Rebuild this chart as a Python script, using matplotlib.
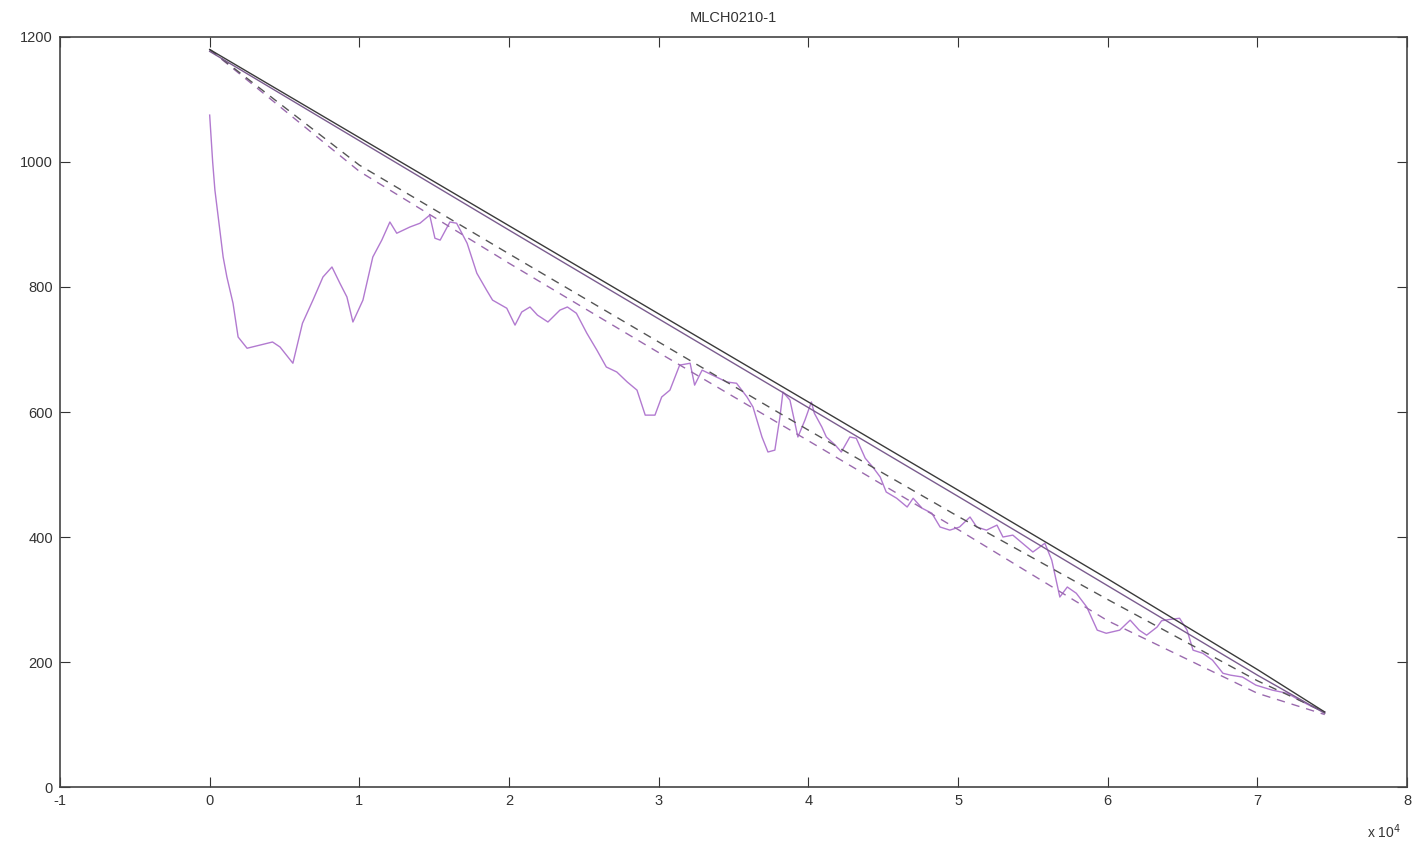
import matplotlib
matplotlib.use("Agg")
import matplotlib.pyplot as plt
import numpy as np

plt.rcParams['font.family'] = ['Liberation Sans', 'DejaVu Sans']
plt.rcParams['axes.unicode_minus'] = False

# x values in units of 1e4
line_x = [0, 1, 2, 3, 4, 5, 6, 7, 7.45]
solid_black = [1180, 1039, 898, 757, 616, 475, 333, 188, 120]
solid_purple = [1177, 1034, 891, 749, 607, 465, 322, 179, 118]
dashed_black = [1180, 995, 853, 712, 571, 433, 300, 170, 120]
dashed_purple = [1180, 985, 838, 695, 554, 412, 266, 150, 116]

# measured (noisy) curve
meas_x = [0.0, 0.02, 0.035, 0.09, 0.115, 0.156, 0.19, 0.25, 0.336, 0.42, 0.47,
          0.556, 0.62, 0.69, 0.757, 0.817, 0.87, 0.917, 0.957, 1.024, 1.09,
          1.15, 1.204, 1.25, 1.338, 1.405, 1.47, 1.505, 1.54, 1.605, 1.65,
          1.72, 1.785, 1.85, 1.89, 1.985, 2.04, 2.085, 2.14, 2.19, 2.26, 2.34,
          2.39, 2.45, 2.52, 2.587, 2.65, 2.72, 2.79, 2.855, 2.91, 2.975, 3.02,
          3.075, 3.14, 3.21, 3.24, 3.29, 3.36, 3.455, 3.52, 3.59, 3.63, 3.69,
          3.73, 3.776, 3.81, 3.83, 3.877, 3.93, 3.977, 4.02, 4.04, 4.09, 4.12,
          4.18, 4.22, 4.277, 4.32, 4.38, 4.43, 4.48, 4.52, 4.59, 4.66, 4.70,
          4.76, 4.825, 4.88, 4.945, 5.01, 5.08, 5.125, 5.19, 5.26, 5.30, 5.366,
          5.43, 5.5, 5.58, 5.626, 5.68, 5.73, 5.79, 5.86, 5.93, 5.99, 6.08,
          6.15, 6.21, 6.26, 6.33, 6.36, 6.41, 6.48, 6.53, 6.57, 6.635, 6.70,
          6.77, 6.82, 6.90, 6.99, 7.1, 7.2, 7.28, 7.37, 7.42, 7.45]
meas_y = [1075, 1000, 955, 848, 816, 774, 720, 702, 707, 712, 704,
          678, 742, 779, 816, 832, 806, 784, 744, 779, 848,
          875, 904, 886, 896, 902, 915, 878, 875, 904, 902,
          870, 822, 795, 779, 766, 739, 760, 768, 755, 744, 763,
          768, 758, 726, 699, 672, 664, 648, 635, 595, 595, 624,
          635, 675, 678, 643, 667, 659, 648, 646, 624, 608, 560,
          536, 539, 592, 632, 619, 560, 587, 616, 598, 576, 560,
          547, 536, 560, 558, 526, 512, 496, 472, 462, 448, 462,
          446, 438, 416, 411, 416, 432, 416, 411, 419, 400, 403,
          390, 376, 390, 363, 304, 320, 310, 288, 251, 246, 251,
          267, 251, 243, 256, 266, 268, 270, 251, 219, 214, 203,
          182, 179, 176, 163, 155, 150, 139, 128, 123, 120]

x_ticks = [-1, 0, 1, 2, 3, 4, 5, 6, 7, 8]
y_ticks = [0, 200, 400, 600, 800, 1000, 1200]

fig = plt.figure(figsize=(14.15, 8.48), dpi=100)
ax = fig.add_axes([0.0424, 0.0719, 0.952, 0.8845])

ax.plot(meas_x, meas_y, color='#b27ad0', lw=1.0)
ax.plot(line_x, dashed_purple, color='#9a6aae', lw=1.0, ls=(0, (6, 5)))
ax.plot(line_x, dashed_black, color='#555555', lw=1.0, ls=(0, (6, 5)))
ax.plot(line_x, solid_purple, color='#7a5c8e', lw=1.0)
ax.plot(line_x, solid_black, color='#3a3a3a', lw=1.0)

ax.set_xlim(-1, 8)
ax.set_ylim(0, 1200)
ax.set_xticks(x_ticks)
ax.set_yticks(y_ticks)
ax.tick_params(direction='in', top=True, right=True, length=7, width=0.8,
               labelsize=10.5, colors='#333333', pad=5)
for s in ax.spines.values():
    s.set_color('#444444')
    s.set_linewidth(1.2)

ax.set_title('MLCH0210-1', fontsize=10.5, color='#333333', pad=11)
fig.text(0.978, 0.012, r'x 10$^4$', fontsize=10, color='#333333', ha='center')

fig.savefig('out.png', dpi=100)
